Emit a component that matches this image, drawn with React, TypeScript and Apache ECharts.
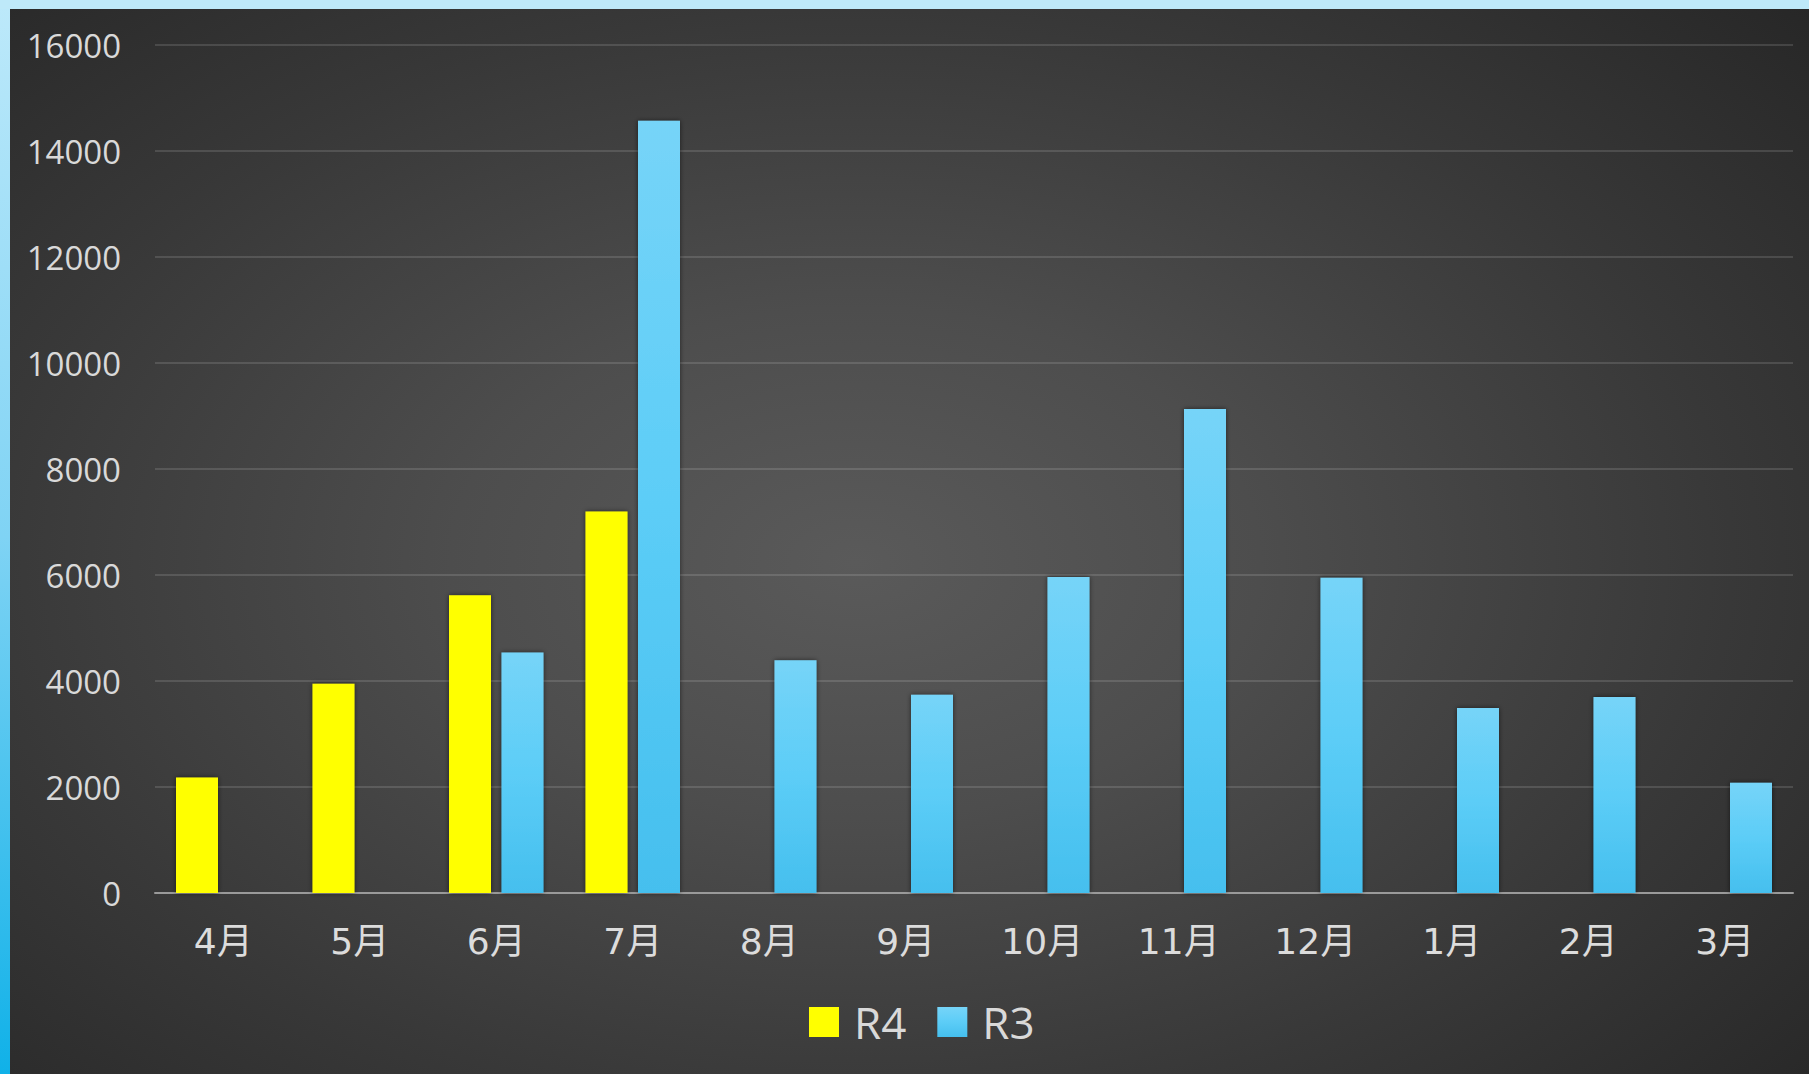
import React, { useEffect, useRef } from "react";
import * as echarts from "echarts";

const categories = ["4月", "5月", "6月", "7月", "8月", "9月", "10月", "11月", "12月", "1月", "2月", "3月"];
const seriesNames = ["R4", "R3"];
const r4Values: (number | null)[] = [2180, 3950, 5620, 7200, null, null, null, null, null, null, null, null];
const r3Values: (number | null)[] = [null, null, 4540, 14570, 4390, 3740, 5960, 9130, 5950, 3490, 3700, 2080];
const yMin = 0;
const yMax = 16000;
const yInterval = 2000;

export default function App() {
  const ref = useRef<HTMLDivElement>(null);

  useEffect(() => {
    if (!ref.current) return;
    const chart = echarts.init(ref.current, undefined, { renderer: "svg" });
    const blueGrad = new echarts.graphic.LinearGradient(0, 0, 0, 1, [
      { offset: 0, color: "#76d4f8" },
      { offset: 0.5, color: "#5ccdf7" },
      { offset: 1, color: "#45bfee" },
    ]);
    chart.setOption({
      animation: false,
      backgroundColor: "transparent",
      grid: { left: 155, right: 16, top: 45, bottom: 181, containLabel: false },
      legend: {
        data: seriesNames,
        left: 809,
        top: 1000,
        padding: 0,
        itemWidth: 30,
        itemHeight: 30,
        itemGap: 31,
        icon: "rect",
        textStyle: {
          color: "#d9d9d9",
          fontSize: 44,
          fontFamily: "Open Sans",
          padding: [0, 0, 0, 10],
        },
      },
      xAxis: {
        type: "category",
        data: categories,
        axisLine: { show: true, lineStyle: { color: "#9a9a9a", width: 2 } },
        axisTick: { show: false },
        axisLabel: {
          color: "#dcdcdc",
          fontSize: 36,
          fontFamily: "'DejaVu Sans', 'Noto Sans CJK JP'",
          margin: 30,
        },
      },
      yAxis: {
        type: "value",
        min: yMin,
        max: yMax,
        interval: yInterval,
        axisLine: { show: false },
        axisTick: { show: false },
        splitLine: { lineStyle: { color: "rgba(255,255,255,0.13)", width: 2 } },
        axisLabel: {
          color: "#d9d9d9",
          fontSize: 33,
          fontFamily: "Open Sans",
          margin: 34,
          formatter: (v: number) => String(v),
        },
      },
      series: [
        {
          name: seriesNames[0],
          type: "bar",
          data: r4Values,
          barWidth: 42,
          barGap: "25%",
          itemStyle: {
            color: "#ffff00",
            shadowColor: "rgba(0,0,0,0.55)",
            shadowBlur: 5,
          },
        },
        {
          name: seriesNames[1],
          type: "bar",
          data: r3Values,
          barWidth: 42,
          barGap: "25%",
          itemStyle: {
            color: blueGrad,
            shadowColor: "rgba(0,0,0,0.55)",
            shadowBlur: 5,
          },
        },
      ],
    });
    return () => chart.dispose();
  }, []);

  return (
    <div
      style={{
        position: "fixed",
        left: 0,
        top: 0,
        width: 1809,
        height: 1074,
        overflow: "hidden",
        background: "linear-gradient(to bottom, #bde9fa 0%, #7fd3f4 50%, #10b1e8 100%)",
      }}
    >
      <div style={{ position: "absolute", left: 0, top: 0, width: 1809, height: 9, background: "#bee9f9" }} />
      <div
        style={{
          position: "absolute",
          left: 10,
          top: 9,
          width: 1799,
          height: 1065,
          background:
            "radial-gradient(ellipse 75% 80% at 47% 52%, #5a5a5a 0%, #4d4d4d 30%, #383838 65%, #252525 100%)",
        }}
      />
      <div ref={ref} style={{ position: "absolute", left: 0, top: 0, width: 1809, height: 1074 }} />
    </div>
  );
}
